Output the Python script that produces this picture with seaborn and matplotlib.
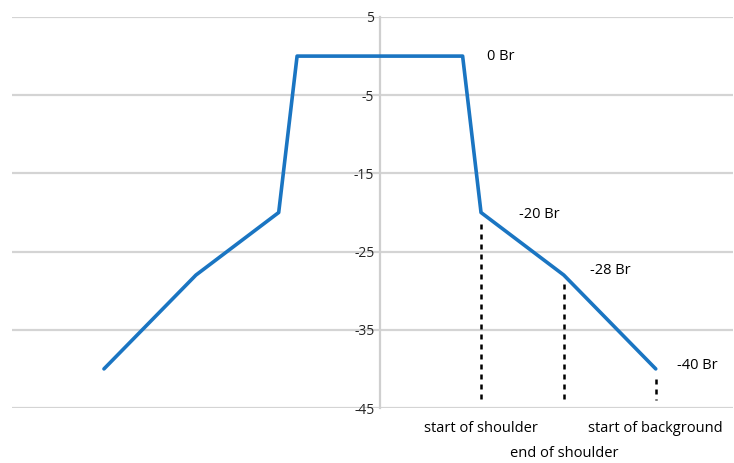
import numpy as np
import pandas as pd
import matplotlib.pyplot as plt
import seaborn as sns

# mask points (offset, level in Br)
offsets = [-30, -20, -11, -9, 9, 11, 20, 30]
levels = [-40, -28, -20, 0, 0, -20, -28, -40]

# point labels on the right side
label_text = ["0 Br", "-20 Br", "-28 Br", "-40 Br"]
label_x = [11.6, 15.1, 22.8, 32.3]
label_y = [0, -20.3, -27.4, -39.6]

# dotted markers below the right side
marker_x = [11, 20, 30]
marker_top = [-21.5, -29.2, -41.3]
marker_names = ["start of shoulder", "end of shoulder", "start of background"]
marker_name_y = [-47.6, -50.8, -47.6]

yticks = [5, -5, -15, -25, -35, -45]

sns.set_style("white")
plt.rcParams['font.family'] = ['Open Sans', 'DejaVu Sans']

df = pd.DataFrame({"offset": offsets, "level": levels})

fig = plt.figure(figsize=(7.34, 4.63), dpi=100)
ax = fig.add_axes([12 / 734, 1 - 408 / 463, 721 / 734, 391 / 463])

for t in yticks:
    ax.axhline(t, color="#d4d4d4", lw=1.6, zorder=0)

sns.lineplot(data=df, x="offset", y="level", sort=False, color="#1a75c2",
             lw=2.6, ax=ax, zorder=3)

for xm, yt in zip(marker_x, marker_top):
    ax.plot([xm, xm], [yt, -44], color="black", lw=1.8, ls=(0, (2, 2)), zorder=2)

for t, x, y in zip(label_text, label_x, label_y):
    ax.text(x, y, t, ha="left", va="center", fontsize=10.5, color="black")

for xm, name, y in zip(marker_x, marker_names, marker_name_y):
    ax.text(xm, y, name, ha="center", va="center", fontsize=10.5, color="black",
            clip_on=False)

ax.set_xlim(-40, 38.4)
ax.set_ylim(-45, 5)
ax.set_xticks([])
ax.set_yticks(yticks)
ax.set_yticklabels([str(t) for t in yticks], fontsize=10.5)
ax.tick_params(axis="y", length=0, pad=4)
for s in ["top", "right", "bottom"]:
    ax.spines[s].set_visible(False)
ax.spines["left"].set_position(("data", 0))
ax.spines["left"].set_color("#cfcfcf")
ax.spines["left"].set_linewidth(1.6)
ax.set_xlabel("")
ax.set_ylabel("")

fig.savefig("out.png", dpi=100)
